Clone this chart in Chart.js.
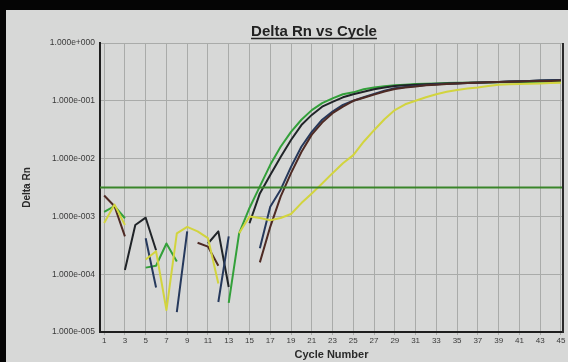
<!DOCTYPE html>
<html>
<head>
<meta charset="utf-8">
<script src="https://cdn.jsdelivr.net/npm/chart.js@4"></script>
<style>
  html,body{margin:0;padding:0;background:#d7d8d7;overflow:hidden;}
  #wrap{width:568px;height:362px;position:relative;overflow:hidden;}
  canvas{display:block;}
</style>
</head>
<body>
<div id="wrap"><canvas id="c" width="568" height="362"></canvas></div>
<script>
// ---- data ----
const cycles = [1,2,3,4,5,6,7,8,9,10,11,12,13,14,15,16,17,18,19,20,21,22,23,24,25,26,27,28,29,30,31,32,33,34,35,36,37,38,39,40,41,42,43,44,45];
const xTickValues = [1,3,5,7,9,11,13,15,17,19,21,23,25,27,29,31,33,35,37,39,41,43,45];
const yTickValues = [1e-5,1e-4,1e-3,1e-2,1e-1,1];
const thresholdValue = 0.00316;

const greenRn  = [1.2e-3,1.5e-3,9.3e-4,null,1.3e-4,1.4e-4,3.4e-4,1.66e-4,null,null,null,null,3.2e-5,5.1e-4,1.4e-3,3.3e-3,7.8e-3,1.6e-2,2.9e-2,4.7e-2,6.9e-2,9.1e-2,0.11,0.13,0.14,0.158,0.17,0.178,0.185,0.19,0.195,0.198,0.2,0.203,0.205,0.206,0.207,0.208,0.209,0.21,0.211,0.212,0.213,0.214,0.215];
const blackRn  = [null,null,1.18e-4,7.1e-4,9.5e-4,2.6e-4,null,null,null,null,3.4e-4,5.5e-4,6e-5,null,7.6e-4,2.5e-3,5.2e-3,1.07e-2,2.1e-2,3.8e-2,5.7e-2,7.9e-2,0.096,0.115,0.13,0.143,0.158,0.17,0.18,0.186,0.19,0.194,0.197,0.2,0.202,0.205,0.208,0.21,0.212,0.215,0.218,0.221,0.224,0.227,0.23];
const navyRn   = [null,null,null,null,4.2e-4,5.9e-5,null,2.2e-5,5.5e-4,null,null,3.3e-5,4.5e-4,null,null,2.8e-4,1.47e-3,2.9e-3,7.2e-3,1.6e-2,2.9e-2,4.7e-2,6.5e-2,8.5e-2,0.1,0.115,0.132,0.15,0.165,0.173,0.18,0.188,0.193,0.197,0.2,0.203,0.206,0.209,0.212,0.215,0.218,0.221,0.224,0.227,0.23];
const brownRn  = [2.3e-3,1.5e-3,4.5e-4,null,null,null,null,null,null,3.5e-4,3.0e-4,1.4e-4,null,null,null,1.6e-4,6.6e-4,2.2e-3,5.6e-3,1.3e-2,2.6e-2,4.2e-2,6.1e-2,7.9e-2,0.1,0.113,0.128,0.145,0.16,0.17,0.177,0.185,0.19,0.195,0.2,0.203,0.206,0.209,0.211,0.213,0.215,0.217,0.219,0.221,0.225];
const yellowRn = [7.7e-4,1.6e-3,7.1e-4,null,1.8e-4,2.5e-4,2.4e-5,5.1e-4,6.6e-4,5.5e-4,4.2e-4,6.9e-5,null,5.1e-4,1.0e-3,9.4e-4,8.6e-4,9.4e-4,1.1e-3,1.7e-3,2.5e-3,3.7e-3,5.6e-3,8.3e-3,1.15e-2,1.96e-2,3.1e-2,4.8e-2,6.9e-2,8.7e-2,0.1,0.115,0.13,0.143,0.154,0.163,0.17,0.18,0.19,0.193,0.196,0.198,0.2,0.203,0.206];

const xMin = 0.6, xMax = 45.2;

function toXY(arr){ return cycles.map((c,i)=>({x:c, y:arr[i]})); }
function fmtExp(v){
  const e = Math.round(Math.log10(v));
  const s = e < 0 ? '-' : '+';
  return '1.000e' + s + String(Math.abs(e)).padStart(3,'0');
}

const frame = {
  id:'frame',
  beforeDraw(chart){
    const ctx = chart.ctx;
    ctx.save();
    ctx.fillStyle = '#d7d8d7';
    ctx.fillRect(0,0,chart.width,chart.height);
    ctx.fillStyle = '#050505';
    ctx.fillRect(0,0,chart.width,10);
    ctx.fillRect(0,0,6,chart.height);
    ctx.restore();
  },
  afterDraw(chart){
    const ctx = chart.ctx, a = chart.chartArea;
    ctx.save();
    // right border of plot
    ctx.strokeStyle = '#2a2a2a';
    ctx.lineWidth = 2;
    ctx.beginPath();
    ctx.moveTo(a.right, a.top); ctx.lineTo(a.right, a.bottom+1);
    ctx.stroke();
    // underlined title
    ctx.fillStyle = '#222';
    ctx.font = 'bold 15px "Liberation Sans", Arial, sans-serif';
    ctx.textAlign = 'center';
    ctx.textBaseline = 'alphabetic';
    const tx = 314, ty = 36;
    ctx.fillText('Delta Rn vs Cycle', tx, ty);
    const w = ctx.measureText('Delta Rn vs Cycle').width;
    ctx.strokeStyle = '#222';
    ctx.lineWidth = 1.3;
    ctx.beginPath();
    ctx.moveTo(tx - w/2, ty + 2.5); ctx.lineTo(tx + w/2, ty + 2.5);
    ctx.stroke();
    ctx.restore();
  }
};

const mk = (label, arr, color, width) => ({
  label, data: toXY(arr), borderColor: color, backgroundColor: color,
  borderWidth: width, pointRadius: 0, spanGaps: false, tension: 0, borderJoinStyle: 'round'
});

new Chart(document.getElementById('c'), {
  type: 'line',
  data: {
    datasets: [
      { label:'Threshold', data:[{x:xMin,y:thresholdValue},{x:xMax,y:thresholdValue}],
        borderColor:'#3a852a', borderWidth:2, pointRadius:0 },
      mk('Yellow', yellowRn, '#d2d43e', 2),
      mk('Brown',  brownRn,  '#4e2a24', 2),
      mk('Navy',   navyRn,   '#26395c', 2),
      mk('Black',  blackRn,  '#202428', 2),
      mk('Green',  greenRn,  '#33a03a', 2)
    ]
  },
  options: {
    responsive: false,
    animation: false,
    devicePixelRatio: 1,
    layout: { padding: { top: 43, right: 5, left: 0, bottom: 0 } },
    plugins: { legend: { display: false }, tooltip: { enabled: false }, title: { display: false } },
    scales: {
      x: {
        type: 'linear', min: xMin, max: xMax,
        afterBuildTicks(s){ s.ticks = xTickValues.map(v=>({value:v})); },
        afterFit(s){ s.height = 30; },
        grid: { color:'#a9aba9', lineWidth:1, drawTicks:true, tickLength:3 },
        border: { color:'#1e1e1e', width:2 },
        ticks: { color:'#3a3a3a', font:{ size:8, family:'"Liberation Sans", Arial, sans-serif' }, padding:1, autoSkip:false, maxRotation:0 },
        title: { display:true, text:'Cycle Number', color:'#2a2a2a',
                 font:{ size:11, weight:'bold', family:'"Liberation Sans", Arial, sans-serif' }, padding:{top:0,bottom:0} }
      },
      y: {
        type: 'logarithmic', min: 1e-5, max: 1,
        afterBuildTicks(s){ s.ticks = yTickValues.map(v=>({value:v})); },
        afterFit(s){ s.width = 100; },
        grid: { color:'#a9aba9', lineWidth:1, drawTicks:false },
        border: { color:'#1e1e1e', width:2 },
        ticks: { color:'#3a3a3a', font:{ size:8.5, family:'"Liberation Sans", Arial, sans-serif' }, padding:5,
                 callback:(v)=>fmtExp(v) },
        title: { display:true, text:'Delta Rn', color:'#2a2a2a',
                 font:{ size:10, weight:'bold', family:'"Liberation Sans", Arial, sans-serif' }, padding:{top:21,bottom:0} }
      }
    }
  },
  plugins: [frame]
});
</script>
</body>
</html>
